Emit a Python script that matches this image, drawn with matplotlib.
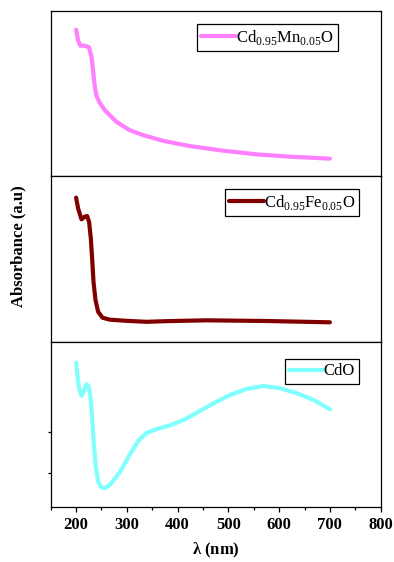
import matplotlib
matplotlib.use("Agg")
import matplotlib.pyplot as plt
from matplotlib.ticker import MultipleLocator

plt.rcParams["font.family"] = ["Liberation Serif", "DejaVu Serif"]
plt.rcParams["mathtext.fontset"] = "custom"
plt.rcParams["mathtext.rm"] = "Liberation Serif"
plt.rcParams["mathtext.bf"] = "Liberation Serif:bold"
plt.rcParams["axes.linewidth"] = 0.9

# UV-Vis absorbance spectra (arbitrary units, normalised per panel)
wl_mn = [200, 204, 208.7, 217, 225.6, 230.4, 233.5, 236.9, 240, 246, 256.4,
         279.4, 305, 331.4, 371, 424, 490, 555.6, 621, 700]
abs_mn = [0.887, 0.820, 0.790, 0.790, 0.780, 0.720, 0.640, 0.540, 0.490, 0.447,
          0.401, 0.330, 0.280, 0.250, 0.215, 0.183, 0.155, 0.133, 0.119, 0.107]

wl_fe = [200, 204, 210.6, 217, 221.7, 225.6, 229, 231.6, 234.3, 238.2, 243.4,
         252, 266.4, 299.3, 338.8, 378, 457, 575, 700]
abs_fe = [0.871, 0.806, 0.740, 0.756, 0.760, 0.725, 0.625, 0.504, 0.362, 0.252,
          0.181, 0.145, 0.133, 0.126, 0.120, 0.124, 0.129, 0.125, 0.117]

wl_cdo = [200, 203, 206, 210.6, 215, 220.5, 224.4, 228.4, 231.5, 234.9, 238.8,
          243.4, 250, 256.8, 266.4, 286, 306, 322.7, 338.8, 359, 385, 411.5,
          437.8, 470.7, 503.6, 536, 569, 602, 635, 668, 700]
abs_cdo = [0.873, 0.788, 0.718, 0.673, 0.698, 0.742, 0.732, 0.667, 0.546, 0.385,
           0.244, 0.153, 0.119, 0.113, 0.133, 0.210, 0.318, 0.400, 0.448, 0.472,
           0.494, 0.526, 0.570, 0.627, 0.678, 0.714, 0.732, 0.718, 0.688, 0.647,
           0.591]

labels = [r"Cd$_{\mathregular{0.95}}$Mn$_{\mathregular{0.05}}$O",
          r"Cd$_{\mathregular{0.95}}$Fe$_{\mathregular{0.05}}$O",
          "CdO"]
colors = ["#FF80FF", "#800000", "#80FFFF"]
legend_anchor = [(0.872, 0.921), (0.935, 0.923), (0.935, 0.894)]
cdo_yticks = [0.206, 0.456]

fig = plt.figure(figsize=(3.94, 5.62), dpi=100)
left, right = 0.1287, 0.9662
bottom, top = 0.0979, 0.9804
h = (top - bottom) / 3
axes = []
for i in range(3):
    ax = fig.add_axes([left, top - (i + 1) * h, right - left, h])
    axes.append(ax)

series = [(wl_mn, abs_mn), (wl_fe, abs_fe), (wl_cdo, abs_cdo)]
for ax, (x, y), lab, col, anc in zip(axes, series, labels, colors, legend_anchor):
    ax.plot(x, y, color=col, lw=3.0, label=lab, solid_joinstyle="round",
            solid_capstyle="round")
    ax.set_xlim(150, 800)
    ax.set_ylim(0, 1)
    leg = ax.legend(loc="upper right", bbox_to_anchor=anc, borderaxespad=0,
                    fontsize=12, frameon=True, fancybox=False, handlelength=2.1,
                    handletextpad=0.0, borderpad=0.25, framealpha=1)
    leg.get_frame().set_edgecolor("black")
    leg.get_frame().set_linewidth(0.9)
    ax.set_xticks([])
    ax.set_yticks([])

ax = axes[2]
ax.xaxis.set_major_locator(MultipleLocator(100))
ax.xaxis.set_minor_locator(MultipleLocator(50))
ax.tick_params(axis="x", which="major", direction="out", length=3.5, width=0.9,
               labelsize=12, pad=4)
ax.tick_params(axis="x", which="minor", direction="out", length=2, width=0.9)
for t in ax.get_xticklabels():
    t.set_fontweight("bold")
ax.set_yticks(cdo_yticks)
ax.set_yticklabels([])
ax.tick_params(axis="y", direction="out", length=2.5, width=0.9)
ax.set_xlabel(r"$\mathbf{\lambda}$ (nm)", fontsize=12, fontweight="bold",
              labelpad=5)

fig.text(0.046, 0.562, "Absorbance (a.u)", rotation=90, fontsize=12,
         fontweight="bold", ha="center", va="center")

fig.savefig("out.png", dpi=100)
